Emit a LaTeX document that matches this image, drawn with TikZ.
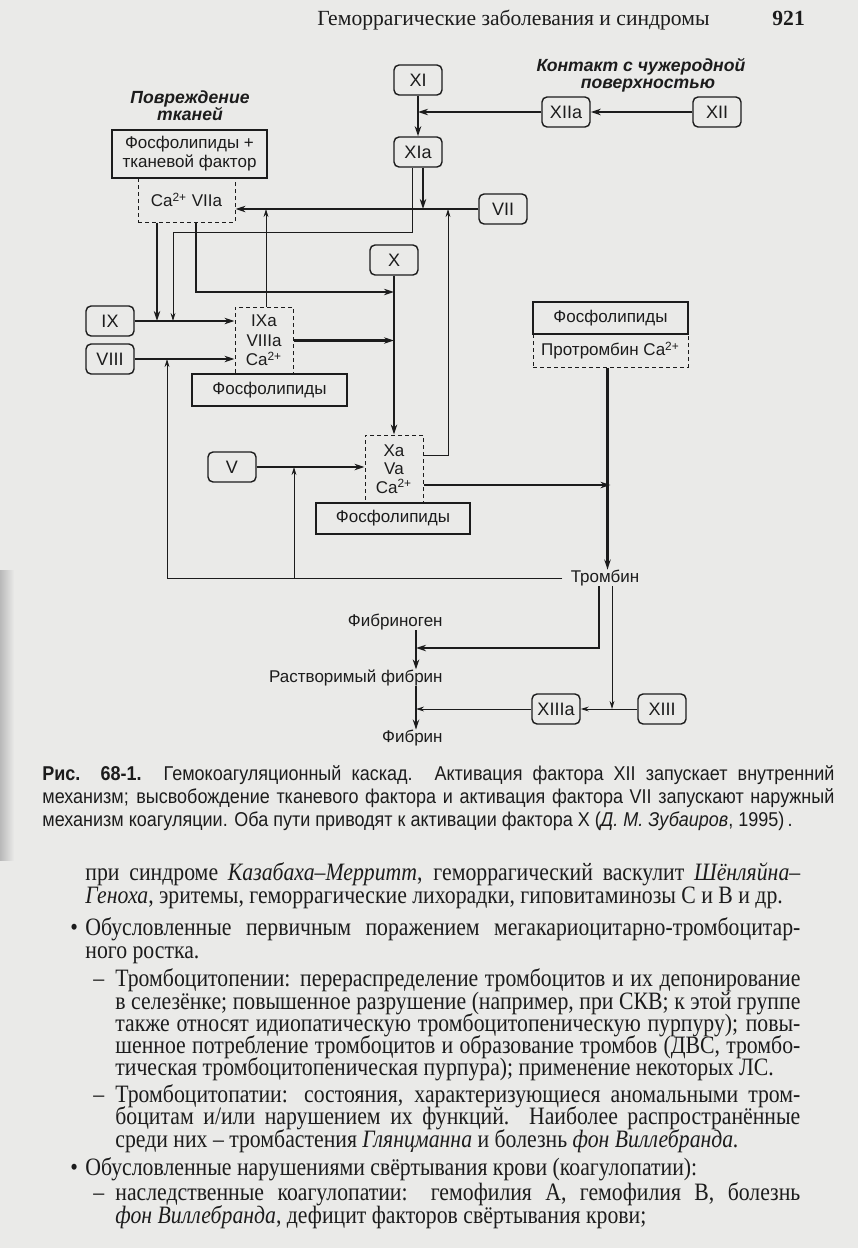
\documentclass[tikz,border=0pt]{standalone}
\usepackage{fontspec}
\setmainfont{Liberation Serif}
\newfontfamily\dsans{Liberation Sans}
\newfontfamily\capfont[FakeStretch=0.9]{Liberation Sans}
\newfontfamily\bodyfont[FakeStretch=0.87]{Liberation Serif}
\usetikzlibrary{arrows.meta}
\definecolor{paper}{RGB}{234,234,232}
\definecolor{ink}{RGB}{28,28,28}
\newcommand\jl[2]{\makebox[#1][s]{#2}}
\tikzset{
  fbox/.style={draw=ink, line width=0.7pt, rounded corners=2.5pt, minimum width=24pt, minimum height=15pt, inner sep=0pt, text=ink, font=\dsans\fontsize{9}{10}\selectfont},
  sbox/.style={draw=ink, fill=paper, line width=0.6pt, inner sep=0pt, text=ink, align=center, font=\dsans\fontsize{8.5}{9.5}\selectfont},
  dbox/.style={draw=ink, dash pattern=on 2pt off 1.5pt, line width=0.5pt, inner sep=0pt, text=ink, align=center, font=\dsans\fontsize{8.5}{9.5}\selectfont},
  thk/.style={draw=ink, line width=1.2pt, -{Stealth[length=5pt,width=3.2pt]}},
  thn/.style={draw=ink, line width=0.5pt, -{Stealth[length=4pt,width=2.4pt]}},
  lbl/.style={font=\dsans\fontsize{8.5}{10}\selectfont, text=ink, inner sep=0pt},
  hdr/.style={font=\dsans\bfseries\itshape\fontsize{8.8}{9}\selectfont, text=ink, align=center, inner sep=0pt},
  body/.style={font=\bodyfont\fontsize{12.5}{14}\selectfont, text=ink, inner sep=0pt, anchor=base west},
  capt/.style={font=\capfont\fontsize{10}{11}\selectfont, text=ink, inner sep=0pt, anchor=base west},
}
\begin{document}
\begin{tikzpicture}[x=0.5pt,y=-0.5pt]
\fill[paper] (0,0) rectangle (858,1248);
\useasboundingbox (0,0) rectangle (858,1248);
\shade[left color=gray!55, right color=paper] (0,570) rectangle (14,860);

% header
\node[anchor=base west, inner sep=0pt, text=ink, font=\fontsize{10.8}{12}\selectfont] (head) at (317,25) {Геморрагические заболевания и синдромы};
\node[anchor=base west, inner sep=0pt, text=ink, font=\bfseries\fontsize{10.8}{12}\selectfont] (pnum) at (772,25) {921};

% titles
\node[hdr] (tissue) at (190,106) {Повреждение\\[-0.5pt]тканей};
\node[hdr] (contact) at (641,75) {Контакт с чужеродной\\[-0.5pt]\hspace*{7pt}поверхностью};

% factor boxes
\node[fbox] (XI) at (418,80) {XI};
\node[fbox] (XIa) at (418,152) {XIa};
\node[fbox] (XIIa) at (566,112) {XIIa};
\node[fbox] (XII) at (717,112) {XII};
\node[fbox] (VII) at (503,209) {VII};
\node[fbox] (X) at (394,260) {X};
\node[fbox] (IX) at (110,321) {IX};
\node[fbox] (VIII) at (110,359) {VIII};
\node[fbox] (V) at (232,467) {V};
\node[fbox] (XIIIa) at (556,709) {XIIIa};
\node[fbox] (XIII) at (662,709) {XIII};

% complexes
\node[dbox, minimum width=48.5pt, minimum height=22pt] (ca) at (186.5,200) {Ca\textsuperscript{2+} VIIa};
\node[sbox, minimum width=77.5pt, minimum height=24pt] (tf) at (189.5,154) {Фосфолипиды +\\тканевой фактор};
\node[dbox, minimum width=29pt, minimum height=33.5pt, font=\dsans\fontsize{8.5}{9.75}\selectfont] (IXa) at (264,340.5) {IXa\\VIIIa\\Ca\textsuperscript{2+}};
\node[sbox, minimum width=77.5pt, minimum height=16pt] (pl1) at (269.5,390) {Фосфолипиды};
\node[dbox, minimum width=29pt, minimum height=34pt, font=\dsans\fontsize{8.5}{9.25}\selectfont] (Xa) at (394,469) {Xa\\Va\\Ca\textsuperscript{2+}};
\node[sbox, minimum width=77pt, minimum height=15.5pt] (pl2) at (393,518.5) {Фосфолипиды};
\node[dbox, minimum width=77.5pt, minimum height=16.5pt] (pro) at (610.5,350.5) {Протромбин Ca\textsuperscript{2+}};
\node[sbox, minimum width=77.5pt, minimum height=16pt] (pl3) at (610.5,318) {Фосфолипиды};

% products
\node[lbl] (thr) at (605,578) {Тромбин};
\node[lbl, anchor=east] (fgn) at (443,622) {Фибриноген};
\node[lbl, anchor=east] (sfb) at (443,678) {Растворимый фибрин};
\node[lbl, anchor=east] (fbn) at (443,738) {Фибрин};

% bend points
\coordinate (b1) at (173,232);
\coordinate (b2) at (394,292);
\coordinate (b3) at (448,209);
\coordinate (b4) at (167,578);
\coordinate (b5) at (294,578);
\coordinate (b6) at (416,648);

% contact pathway
\draw[thk] (XI) -- (XIa);
\draw[thk] (XII) -- (XIIa);
\draw[thk] (XIIa.west) -- (XI.south |- XIIa.west);
\draw[thk] (VII.west) -- (ca.east |- VII.west);
\draw[thk] ([xshift=2.5pt]XIa.south) -- ([xshift=2.5pt]XIa.south |- VII.west);
\draw[thn] ([xshift=-3pt]XIa.south) |- (b1) -- (b1 |- IX.east);
% tissue factor pathway
\draw[thk] ([xshift=-14.75pt]ca.south) -- ([xshift=-14.75pt]ca.south |- IX.east);
\draw[thk] ([xshift=4.75pt]ca.south) |- (b2);
\draw[thn] ([xshift=1pt]IXa.north) -- ([xshift=1pt]IXa.north |- VII.west);
% tenase
\draw[thk] (IX.east) -- (IX.east -| IXa.west);
\draw[thk] (VIII.east) -- (VIII.east -| IXa.west);
\draw[thk] (IXa.east) -- (IXa.east -| X.south);
\draw[thk] (X) -- (Xa);
% prothrombinase
\draw[thn] ([yshift=7pt]Xa.east) -| (b3);
\draw[thk] (V.east) -- (V.east -| Xa.west);
\draw[thk] ([yshift=-8pt]Xa.east) -- ([yshift=-8pt]Xa.east -| pro.south);
\draw[thk] ([xshift=-1.5pt]pro.south) -- ([xshift=-1.5pt]pro.south |- thr.north);
% thrombin feedback
\draw[thn] ([xshift=-4pt]thr.west) -- (b4) -- (b4 |- VIII.east);
\draw[thn] (b5) -- (b5 |- V.east);
% fibrin formation
\draw[thk] ([xshift=-3pt]thr.south) |- (b6);
\draw[thk] (fgn.south -| b6) -- (sfb.north -| b6);
\draw[thk] (sfb.south -| b6) -- (fbn.north -| b6);
\draw[thn] ([xshift=3.5pt]thr.south) -- ([xshift=3.5pt]thr.south |- XIII.west);
\draw[thn] (XIII) -- (XIIIa);
\draw[thn] (XIIIa.west) -- (XIIIa.west -| b6);

% caption
\node[capt] (cap1) at (42,780) {\jl{396pt}{\textbf{Рис.\ \ 68-1.} Гемокоагуляционный каскад. Активация фактора XII запускает внутренний}};
\node[capt] (cap2) at (42,803) {\jl{396pt}{механизм; высвобождение тканевого фактора и активация фактора VII запускают наружный}};
\node[capt] (cap3) at (42,826) {механизм коагуляции. Оба пути приводят к активации фактора X (\textit{Д. М. Зубаиров}, 1995)\,.};

% body text
\node[body] (t1) at (85,880) {\jl{357.5pt}{при синдроме \textit{Казабаха–Мерритт}, геморрагический васкулит \textit{Шёнляйна–}}};
\node[body] (t2) at (85,903) {\textit{Геноха}, эритемы, геморрагические лихорадки, гиповитаминозы С и В и др.};
\node[body] (u1) at (70,935) {•};
\node[body] (t3) at (85,935) {\jl{357.5pt}{Обусловленные первичным поражением мегакариоцитарно-тромбоцитар-}};
\node[body] (t4) at (85,958) {ного ростка.};
\node[body] (d1) at (93,986) {–};
\node[body] (t5) at (115,986) {\jl{342.5pt}{Тромбоцитопении: перераспределение тромбоцитов и их депонирование}};
\node[body] (t6) at (115,1009) {\jl{342.5pt}{в селезёнке; повышенное разрушение (например, при СКВ; к этой группе}};
\node[body] (t7) at (115,1031) {\jl{342.5pt}{также относят идиопатическую тромбоцитопеническую пурпуру); повы-}};
\node[body] (t8) at (115,1053) {\jl{342.5pt}{шенное потребление тромбоцитов и образование тромбов (ДВС, тромбо-}};
\node[body] (t9) at (115,1075) {тическая тромбоцитопеническая пурпура); применение некоторых ЛС.};
\node[body] (d2) at (93,1102) {–};
\node[body] (t10) at (115,1102) {\jl{342.5pt}{Тромбоцитопатии: состояния, характеризующиеся аномальными тром-}};
\node[body] (t11) at (115,1124) {\jl{342.5pt}{боцитам и/или нарушением их функций. Наиболее распространённые}};
\node[body] (t12) at (115,1147) {среди них – тромбастения \textit{Глянцманна} и болезнь \textit{фон Виллебранда.}};
\node[body] (u2) at (70,1175) {•};
\node[body] (t13) at (85,1175) {Обусловленные нарушениями свёртывания крови (коагулопатии):};
\node[body] (d3) at (93,1200) {–};
\node[body] (t14) at (115,1200) {\jl{342.5pt}{наследственные коагулопатии: гемофилия А, гемофилия В, болезнь}};
\node[body] (t15) at (115,1223) {\textit{фон Виллебранда}, дефицит факторов свёртывания крови;};
\end{tikzpicture}
\end{document}
